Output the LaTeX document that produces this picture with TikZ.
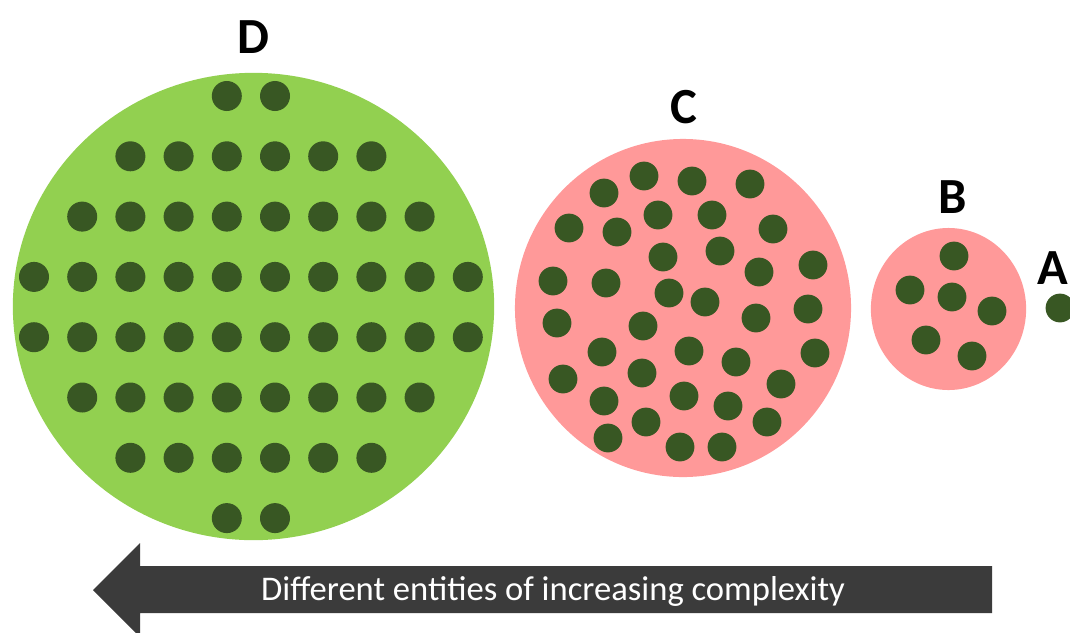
\documentclass[tikz,border=0pt]{standalone}
\usepackage{fontspec}
\setmainfont{Carlito}
\usetikzlibrary{positioning,shapes.geometric}
\definecolor{leafgreen}{HTML}{92D050}
\definecolor{rosepink}{HTML}{FF9999}
\definecolor{dotgreen}{HTML}{385723}
\definecolor{arrowgray}{HTML}{3B3B3B}
\tikzset{
  disc/.style={ellipse, draw=none, inner sep=0pt, outer sep=0pt},
  dotn/.style={circle, fill=dotgreen, inner sep=0pt, minimum size=0.72cm},
  lbl/.style={font=\fontsize{36}{36}\selectfont\bfseries},
  arrowtext/.style={text=white, font=\fontsize{24.6}{24.6}\selectfont},
}

\begin{document}
\begin{tikzpicture}[x=0.025cm, y=-0.025cm]
  \useasboundingbox (0,0) rectangle (1070,632);

  % D: regular grid
  \node[disc, fill=leafgreen, minimum width=12.03cm, minimum height=11.68cm] (D) at (253.5,306.5) {};
  \node[lbl] (labD) at (253,37) {D};
  \foreach \r/\a/\b in {0/4/5, 1/2/7, 2/1/8, 3/0/9, 4/0/9, 5/1/8, 6/2/7, 7/4/5} {
    \foreach \c in {\a,...,\b} {
      \node[dotn, minimum size=0.75cm] (d\r\c) at ({34+48.2*\c},{96+60.3*\r}) {};
    }
  }

  % C: scattered
  \node[disc, fill=rosepink, minimum width=8.4cm, minimum height=8.45cm] (C) at (683,308) {};
  \node[lbl] (labC) at (684,107) {C};
  \foreach \x/\y [count=\i] in {604/193, 644/176, 692/181, 750/184, 569/228, 617/232,
      658/215, 712/215, 773/229, 663/257, 720/251, 759/272, 813/265, 553/281,
      606/283, 669/293, 705/302, 808/309, 557/323, 643/326, 756/318, 602/352,
      689/351, 815/353, 736/362, 563/379, 642/373, 604/401, 684/396, 781/384,
      728/406, 646/422, 767/422, 608/438, 680/447, 722/447} {
    \node[dotn] (c\i) at (\x,\y) {};
  }

  % B
  \node[disc, fill=rosepink, minimum width=3.88cm, minimum height=4.05cm] (B) at (948.5,309) {};
  \node[lbl] (labB) at (953,197) {B};
  \foreach \x/\y [count=\i] in {954/256, 910/290, 952/297, 992/311, 926/340, 972/356} {
    \node[dotn] (b\i) at (\x,\y) {};
  }

  % A
  \node[lbl] (labA) at (1053,268) {A};
  \node[dotn] (a1) at (1060,308) {};

  % arrow
  \fill[arrowgray] (992,566) -- (140,566) -- (140,543) -- (93,590)
    -- (140,637) -- (140,613) -- (992,613) -- cycle;
  \node[arrowtext] (caption) at (553,591) {Different entities of increasing complexity};
\end{tikzpicture}
\end{document}
